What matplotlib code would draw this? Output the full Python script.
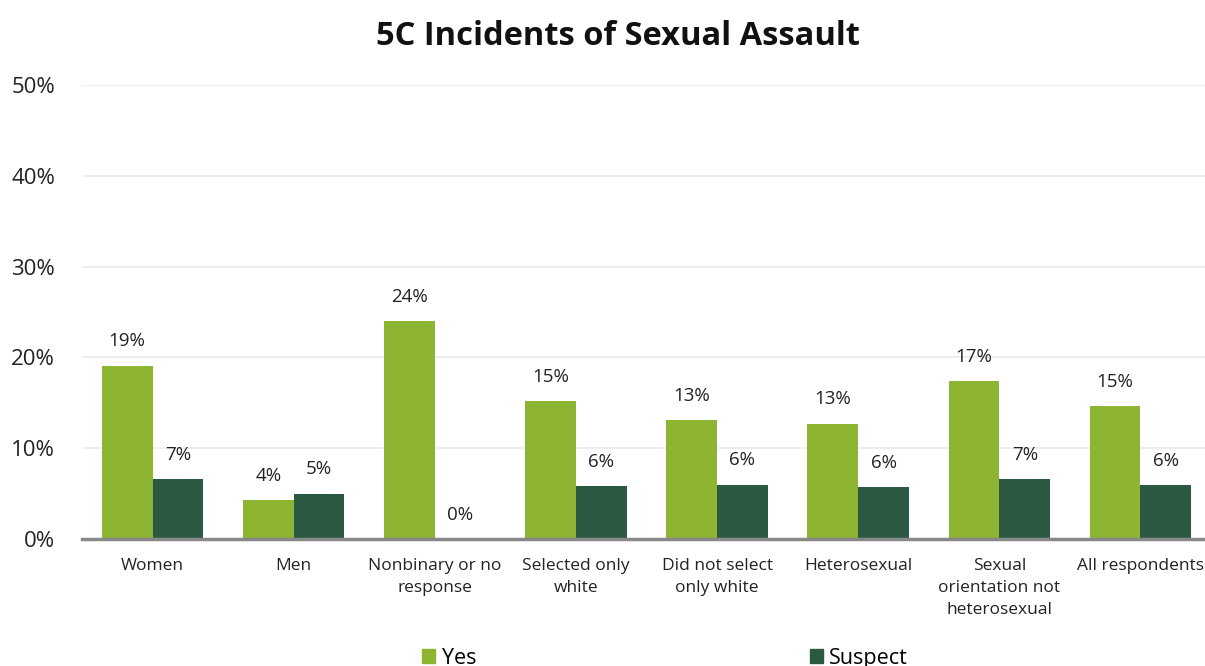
import matplotlib.pyplot as plt
import matplotlib.patches as mpatches
import numpy as np

plt.rcParams["font.family"] = ["Open Sans", "DejaVu Sans"]

# Data (percent of respondents)
categories = ["Women", "Men", "Nonbinary or no\nresponse", "Selected only\nwhite",
              "Did not select\nonly white", "Heterosexual",
              "Sexual\norientation not\nheterosexual", "All respondents"]
yes_vals = [19.1, 4.3, 24.0, 15.2, 13.1, 12.7, 17.4, 14.6]
suspect_vals = [6.6, 5.0, 0.0, 5.8, 6.0, 5.7, 6.6, 5.9]
y_ticks = [0, 10, 20, 30, 40, 50]

YES_COLOR = "#8DB532"
SUSPECT_COLOR = "#2B5941"

fig = plt.figure(figsize=(12.05, 6.66), dpi=100)
ax = fig.add_axes([82 / 1205, 1 - 539 / 666, (1211 - 82) / 1205, (539 - 85) / 666])

x = np.arange(len(categories))
w = 0.36
b1 = ax.bar(x - w / 2, yes_vals, w, color=YES_COLOR, zorder=3)
b2 = ax.bar(x + w / 2, suspect_vals, w, color=SUSPECT_COLOR, zorder=3)

for bars, vals in [(b1, yes_vals), (b2, suspect_vals)]:
    for rect, v in zip(bars, vals):
        ax.annotate(f"{v:.0f}%", xy=(rect.get_x() + rect.get_width() / 2, v),
                    xytext=(0, 11), textcoords="offset points",
                    ha="center", va="bottom", fontsize=13.5, color="#222222")

ax.set_xlim(-0.5, len(categories) - 0.5)
ax.set_ylim(0, 50)
ax.set_yticks(y_ticks)
ax.set_yticklabels([f"{t}%" for t in y_ticks], fontsize=16, color="#222222")
ax.set_xticks(x)
ax.set_xticklabels(categories, fontsize=12.5, color="#222222", linespacing=1.47)
ax.tick_params(axis="both", length=0)
ax.tick_params(axis="y", pad=19.5)
ax.tick_params(axis="x", pad=14)

ax.yaxis.grid(True, color="#EBEBEB", linewidth=1.2, zorder=0)
ax.set_axisbelow(True)
for s in ["top", "right", "left"]:
    ax.spines[s].set_visible(False)
ax.spines["bottom"].set_color("#888888")
ax.spines["bottom"].set_linewidth(2.5)
ax.spines["bottom"].set_zorder(4)

fig.suptitle("5C Incidents of Sexual Assault", x=0.513, y=0.97,
             fontsize=23.5, fontweight="bold", color="#111111")

handles = [mpatches.Patch(color=YES_COLOR, label="Yes"),
           mpatches.Patch(color=SUSPECT_COLOR, label="Suspect")]
fig.legend(handles=handles, loc="center", bbox_to_anchor=(0.552, 0.012), ncol=2,
           frameon=False, fontsize=15.5, handlelength=0.6, handleheight=0.6,
           handletextpad=0.3, columnspacing=15.5)

fig.savefig("out.png", dpi=100, facecolor="white")
